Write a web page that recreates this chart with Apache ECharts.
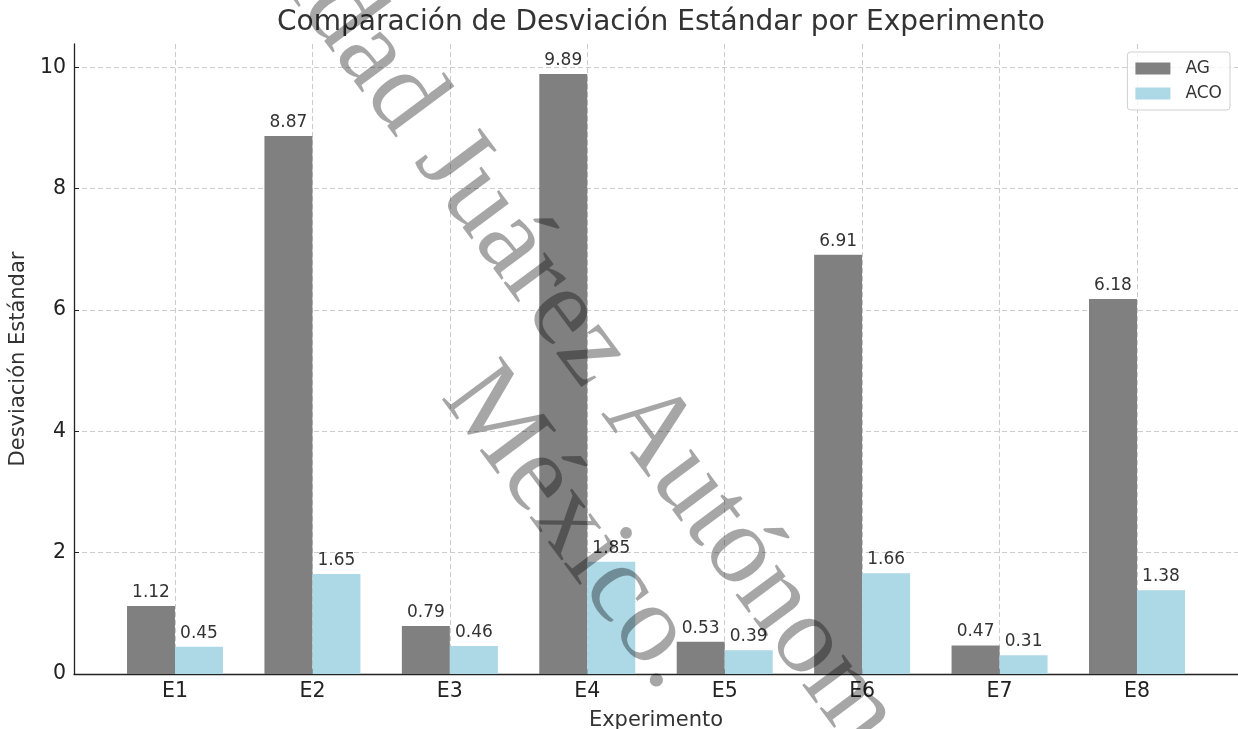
<!DOCTYPE html>
<html lang="es">
<head>
    <meta charset="UTF-8">
    <title>Desviación Estándar</title>
    <script type="text/javascript" src="https://cdn.jsdelivr.net/npm/echarts@6/dist/echarts.min.js"></script>
    <style>
        html, body { margin: 0; padding: 0; background: #fff; }
    </style>
</head>
<body>
    <div id="main" style="width: 1238px;height:729px;"></div>
    <script type="text/javascript">
        // datos
        var experimentos = ['E1', 'E2', 'E3', 'E4', 'E5', 'E6', 'E7', 'E8'];
        var valoresAG = [1.12, 8.87, 0.79, 9.89, 0.53, 6.91, 0.47, 6.18];
        var valoresACO = [0.45, 1.65, 0.46, 1.85, 0.39, 1.66, 0.31, 1.38];
        var ticksY = [0, 2, 4, 6, 8, 10];

        var posX = experimentos.map(function (e, i) { return i; });
        var fuente = 'DejaVu Sans';

        function pares(vals) {
            return vals.map(function (v, i) { return [i, v]; });
        }

        var etiqueta = {
            show: true,
            position: 'top',
            distance: 5,
            fontFamily: fuente,
            fontSize: 17,
            color: '#333',
            formatter: function (p) { return p.value[1].toFixed(2); }
        };

        // marca de agua girada
        var giro = -53.4 * Math.PI / 180;
        function marca(texto, x, y) {
            return {
                type: 'text',
                x: x,
                y: y,
                rotation: giro,
                z: 100,
                silent: true,
                style: {
                    text: texto,
                    font: '112px "Liberation Serif"',
                    align: 'center',
                    verticalAlign: 'middle',
                    fill: 'rgba(0,0,0,0.35)'
                }
            };
        }

        var myChart = echarts.init(document.getElementById('main'));

        var option = {
            animation: false,
            backgroundColor: '#fff',
            textStyle: { fontFamily: fuente },
            title: {
                text: 'Comparación de Desviación Estándar por Experimento',
                left: 656,
                textAlign: 'center',
                top: 4,
                textStyle: { fontFamily: fuente, fontSize: 28, fontWeight: 'normal', color: '#333' }
            },
            legend: {
                data: ['AG', 'ACO'],
                orient: 'vertical',
                right: 8,
                top: 52,
                itemWidth: 35,
                itemHeight: 12,
                itemGap: 8,
                padding: [8, 8, 8, 8],
                borderColor: '#d0d0d0',
                borderWidth: 1,
                borderRadius: 3,
                backgroundColor: 'rgba(255,255,255,0.8)',
                icon: 'rect',
                textStyle: { fontFamily: fuente, fontSize: 17, color: '#333', padding: [0, 0, 0, 10] }
            },
            grid: { left: 74, right: 0, top: 44, bottom: 55, outerBoundsMode: 'none', containLabel: false },
            xAxis: {
                type: 'value',
                min: -0.735,
                max: 7.735,
                name: 'Experimento',
                nameLocation: 'middle',
                nameGap: 36,
                nameTextStyle: { fontFamily: fuente, fontSize: 21, color: '#333' },
                axisLine: { show: true, onZero: false, lineStyle: { color: '#222', width: 1.3 } },
                axisTick: { show: true, inside: true, length: 5, customValues: posX, lineStyle: { color: '#222' } },
                axisLabel: {
                    customValues: posX,
                    margin: 7,
                    fontFamily: fuente,
                    fontSize: 20.5,
                    color: '#222',
                    formatter: function (v) { return experimentos[Math.round(v)]; }
                },
                splitLine: { show: true, lineStyle: { color: '#cccccc', type: [5, 3], width: 1 } }
            },
            yAxis: {
                type: 'value',
                min: 0,
                max: 10.3845,
                name: 'Desviación Estándar',
                nameLocation: 'middle',
                nameGap: 38,
                nameTextStyle: { fontFamily: fuente, fontSize: 21, color: '#333' },
                axisLine: { show: true, onZero: false, lineStyle: { color: '#222', width: 1.3 } },
                axisTick: { show: true, inside: true, length: 5, customValues: ticksY, lineStyle: { color: '#222' } },
                axisLabel: {
                    customValues: ticksY,
                    margin: 8,
                    fontFamily: fuente,
                    fontSize: 20.5,
                    color: '#222'
                },
                splitLine: { show: true, lineStyle: { color: '#cccccc', type: [5, 3], width: 1 } }
            },
            graphic: [
                marca('Universidad Juárez Autónoma de Tabasco', 657, 440),
                marca('México.', 574, 528)
            ],
            series: [{
                name: 'AG',
                type: 'bar',
                data: pares(valoresAG),
                barWidth: 48,
                barGap: '0%',
                itemStyle: { color: '#808080' },
                label: etiqueta
            }, {
                name: 'ACO',
                type: 'bar',
                data: pares(valoresACO),
                barWidth: 48,
                barGap: '0%',
                itemStyle: { color: '#add8e6' },
                label: etiqueta
            }]
        };

        myChart.setOption(option);
    </script>
</body>
</html>
